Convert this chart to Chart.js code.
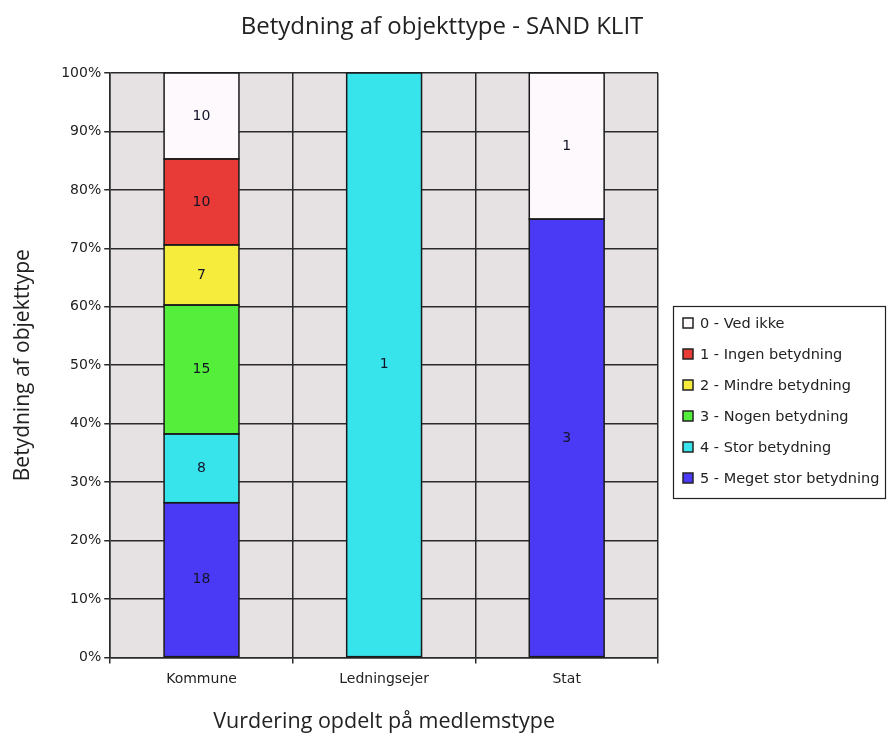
<!DOCTYPE html>
<html>
<head>
<meta charset="utf-8">
<script src="https://cdn.jsdelivr.net/npm/chart.js@4"></script>
<style>
  html, body { margin: 0; padding: 0; background: #fff; }
  #wrap { width: 888px; height: 736px; }
</style>
</head>
<body>
<div id="wrap"><canvas id="bar-chart" width="888" height="736"></canvas></div>
<script>
const chartTitle = "Betydning af objekttype - SAND KLIT"
const categories = ["Kommune", "Ledningsejer", "Stat"]
const seriesNames = [
  "0 - Ved ikke",
  "1 - Ingen betydning",
  "2 - Mindre betydning",
  "3 - Nogen betydning",
  "4 - Stor betydning",
  "5 - Meget stor betydning",
]
// antal svar pr. kategori
const vedIkke = [10, 0, 1]
const ingen = [10, 0, 0]
const mindre = [7, 0, 0]
const nogen = [15, 0, 0]
const stor = [8, 1, 0]
const megetStor = [18, 0, 3]
const colors = ["#fdf9fd", "#e83a36", "#f5ec3b", "#55ee3a", "#38e4ec", "#4a3af5"]
const yTicks = [0, 10, 20, 30, 40, 50, 60, 70, 80, 90, 100]

const counts = [vedIkke, ingen, mindre, nogen, stor, megetStor]
const totals = categories.map((c, i) => counts.reduce((s, arr) => s + arr[i], 0))

// stacking starts from the bottom, so 5 goes first
const datasets = []
for (let k = counts.length - 1; k >= 0; k--) {
  datasets.push({
    label: seriesNames[k],
    data: counts[k].map((v, i) => (v / totals[i]) * 100),
    raw: counts[k],
    backgroundColor: colors[k],
    borderWidth: 0,
    barPercentage: 0.41,
    categoryPercentage: 1,
  })
}

// outline + count in each segment
const segmentLabels = {
  id: "segmentLabels",
  afterDatasetsDraw(chart) {
    const c = chart.ctx
    c.save()
    chart.data.datasets.forEach((ds, di) => {
      chart.getDatasetMeta(di).data.forEach((bar, i) => {
        if (!ds.raw[i]) return
        c.strokeStyle = "#1a1a1a"
        c.lineWidth = 1.5
        c.strokeRect(bar.x - bar.width / 2, bar.y, bar.width, bar.base - bar.y)
      })
    })
    c.font = "14px 'DejaVu Sans'"
    c.fillStyle = "#141428"
    c.textAlign = "center"
    c.textBaseline = "middle"
    chart.data.datasets.forEach((ds, di) => {
      chart.getDatasetMeta(di).data.forEach((bar, i) => {
        const v = ds.raw[i]
        if (!v) return
        c.fillText(String(v), bar.x, (bar.y + bar.base) / 2)
      })
    })
    c.restore()
  },
}

// title centred on the whole canvas, legend framed right of the plot
const extras = {
  id: "extras",
  afterDraw(chart) {
    const c = chart.ctx
    c.save()
    c.fillStyle = "#222"
    c.font = "24px 'Open Sans'"
    c.textAlign = "center"
    c.textBaseline = "middle"
    c.fillText(chartTitle, 442, 27)

    c.strokeStyle = "#222"
    c.lineWidth = 1.2
    c.strokeRect(673.5, 306.5, 212, 192)
    c.font = "14.5px 'DejaVu Sans'"
    c.textAlign = "left"
    seriesNames.forEach((name, i) => {
      const y = 323 + i * 31
      c.fillStyle = colors[i]
      c.fillRect(683, y - 5, 10, 10)
      c.strokeStyle = "#222"
      c.lineWidth = 1.5
      c.strokeRect(683, y - 5, 10, 10)
      c.fillStyle = "#222"
      c.fillText(name, 700, y + 1)
    })
    c.restore()
  },
}

const ctx = document.getElementById("bar-chart")

const barChart = new Chart(ctx, {
  type: "bar",
  data: { labels: categories, datasets: datasets },
  options: {
    responsive: false,
    animation: false,
    layout: { padding: { left: 10, right: 230, top: 73, bottom: 1 } },
    scales: {
      x: {
        stacked: true,
        grid: {
          offset: true,
          color: "#2a2a2a",
          lineWidth: 1.5,
          drawTicks: true,
          tickLength: 6,
        },
        border: { color: "#2a2a2a", width: 1.5 },
        ticks: {
          color: "#222",
          font: { family: "DejaVu Sans", size: 14 },
          padding: 8,
        },
        title: {
          display: true,
          text: "Vurdering opdelt på medlemstype",
          color: "#222",
          font: { family: "Open Sans", size: 21.5 },
          padding: { top: 13, bottom: 0 },
        },
      },
      y: {
        stacked: true,
        min: 0,
        max: 100,
        afterBuildTicks(axis) {
          axis.ticks = yTicks.map(v => ({ value: v }))
        },
        grid: {
          color: "#2a2a2a",
          lineWidth: 1.5,
          tickLength: 6,
        },
        border: { color: "#2a2a2a", width: 1.5 },
        ticks: {
          color: "#222",
          font: { family: "DejaVu Sans", size: 14 },
          padding: 3,
          callback: v => v + "%",
        },
        title: {
          display: true,
          text: "Betydning af objekttype",
          color: "#222",
          font: { family: "Open Sans", size: 21 },
          padding: { top: 0, bottom: 23 },
        },
      },
    },
    plugins: {
      title: { display: false },
      legend: { display: false },
      tooltip: { enabled: false },
    },
  },
  plugins: [
    {
      id: "plotBg",
      beforeDraw(chart) {
        const a = chart.chartArea
        chart.ctx.save()
        chart.ctx.fillStyle = "#e6e2e4"
        chart.ctx.fillRect(a.left, a.top, a.right - a.left, a.bottom - a.top)
        chart.ctx.restore()
      },
    },
    segmentLabels,
    extras,
  ],
})
</script>
</body>
</html>
